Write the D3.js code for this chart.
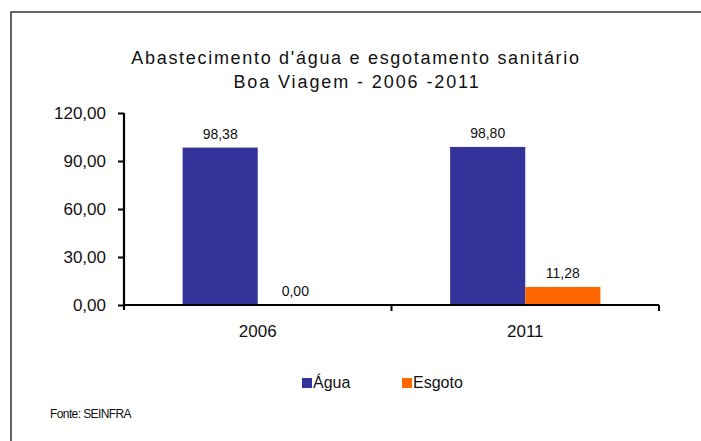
<!DOCTYPE html>
<html>
<head>
<meta charset="utf-8">
<script src="https://cdn.jsdelivr.net/npm/d3@7"></script>
<style>
  body { margin: 0; background: #fff; }
  svg { font-family: "Liberation Sans", Arial, sans-serif; }
</style>
</head>
<body>
<div id="grafico"></div>
<script>
const anos = ["2006", "2011"];
const series = ["Água", "Esgoto"];
const agua = [98.38, 98.8];
const esgoto = [0, 11.28];
const yTicks = [0, 30, 60, 90, 120];

const width = 701;
const height = 441;
const margin = { top: 113, right: 42, bottom: 136, left: 124 };

const color = d3.scaleOrdinal().domain(series).range(["#333399", "#ff6600"]);
const fmt = (v) => v.toFixed(2).replace(".", ",");

const datos = anos.map((ano, i) => ({ ano, valores: [agua[i], esgoto[i]] }));

const svg = d3
  .select("#grafico")
  .append("svg")
  .attr("width", width)
  .attr("height", height);

// moldura
svg
  .append("path")
  .attr("d", `M11,${height} L11,12 L${width},12`)
  .attr("fill", "none")
  .attr("stroke", "#333")
  .attr("stroke-width", 1.5);

// título
const titulo = svg
  .append("text")
  .attr("text-anchor", "middle")
  .style("font-size", "18px")
  .style("fill", "#111");
titulo
  .append("tspan")
  .attr("x", 356)
  .attr("y", 64)
  .style("letter-spacing", "1.7px")
  .text("Abastecimento d'água e esgotamento sanitário");
titulo
  .append("tspan")
  .attr("x", 357)
  .attr("y", 88)
  .style("letter-spacing", "1.9px")
  .text("Boa Viagem - 2006 -2011");

const x0 = d3
  .scaleBand()
  .domain(anos)
  .range([margin.left, width - margin.right]);

const x1 = d3
  .scaleBand()
  .domain(series)
  .range([0, x0.bandwidth()])
  .paddingInner(0)
  .paddingOuter(0.78);

const y = d3
  .scaleLinear()
  .domain([0, 120])
  .range([height - margin.bottom, margin.top]);

const grupos = svg
  .selectAll("g.ano")
  .data(datos)
  .join("g")
  .attr("class", "ano")
  .attr("transform", (d) => `translate(${x0(d.ano)},0)`);

grupos
  .selectAll("rect")
  .data((d) => d.valores.map((v, i) => ({ serie: series[i], valor: v })))
  .join("rect")
  .attr("x", (d) => x1(d.serie))
  .attr("y", (d) => y(d.valor))
  .attr("width", x1.bandwidth())
  .attr("height", (d) => y(0) - y(d.valor))
  .attr("fill", (d) => color(d.serie));

grupos
  .selectAll("text")
  .data((d) => d.valores.map((v, i) => ({ serie: series[i], valor: v })))
  .join("text")
  .attr("x", (d) => x1(d.serie) + x1.bandwidth() / 2)
  .attr("y", (d) => y(d.valor) - 9)
  .attr("text-anchor", "middle")
  .style("font-size", "14px")
  .style("fill", "#111")
  .text((d) => fmt(d.valor));

// eixo y
const eixoY = svg
  .append("g")
  .attr("transform", `translate(${margin.left},0)`)
  .call(d3.axisLeft(y).tickValues(yTicks).tickFormat(fmt).tickSize(6).tickPadding(12));
eixoY.select(".domain").attr("stroke", "#000").attr("stroke-width", 2.2)
  .attr("d", `M0,${y(120)}V${y(0) + 5}`);
eixoY.selectAll(".tick line").attr("stroke", "#000").attr("stroke-width", 2);
eixoY.selectAll(".tick text").style("font-size", "17px").style("fill", "#111");

// eixo x
const eixoX = svg
  .append("g")
  .attr("transform", `translate(0,${y(0)})`)
  .call(d3.axisBottom(x0).tickSize(0).tickPadding(20));
eixoX.select(".domain").attr("stroke", "#000").attr("stroke-width", 2.2)
  .attr("d", `M${margin.left},0H${width - margin.right}`);
eixoX.selectAll(".tick text").style("font-size", "17px").style("fill", "#111");
eixoX
  .selectAll("line.sep")
  .data(anos)
  .join("line")
  .attr("class", "sep")
  .attr("x1", (d) => x0(d) + x0.bandwidth())
  .attr("x2", (d) => x0(d) + x0.bandwidth())
  .attr("y1", 0)
  .attr("y2", 6)
  .attr("stroke", "#000")
  .attr("stroke-width", 2);

// legenda
const legenda = svg.append("g").attr("transform", "translate(302,378)");
legenda
  .selectAll("g")
  .data(series)
  .join("g")
  .attr("transform", (d, i) => `translate(${i * 100},0)`)
  .each(function (d) {
    d3.select(this)
      .append("rect")
      .attr("width", 10)
      .attr("height", 10)
      .attr("fill", color(d));
    d3.select(this)
      .append("text")
      .attr("x", 11)
      .attr("y", 10)
      .style("font-size", "16px")
      .style("fill", "#111")
      .text(d);
  });

// fonte
svg
  .append("text")
  .attr("x", 50)
  .attr("y", 418)
  .style("font-size", "12px")
  .style("letter-spacing", "-0.6px")
  .style("fill", "#111")
  .text("Fonte: SEINFRA");
</script>
</body>
</html>
